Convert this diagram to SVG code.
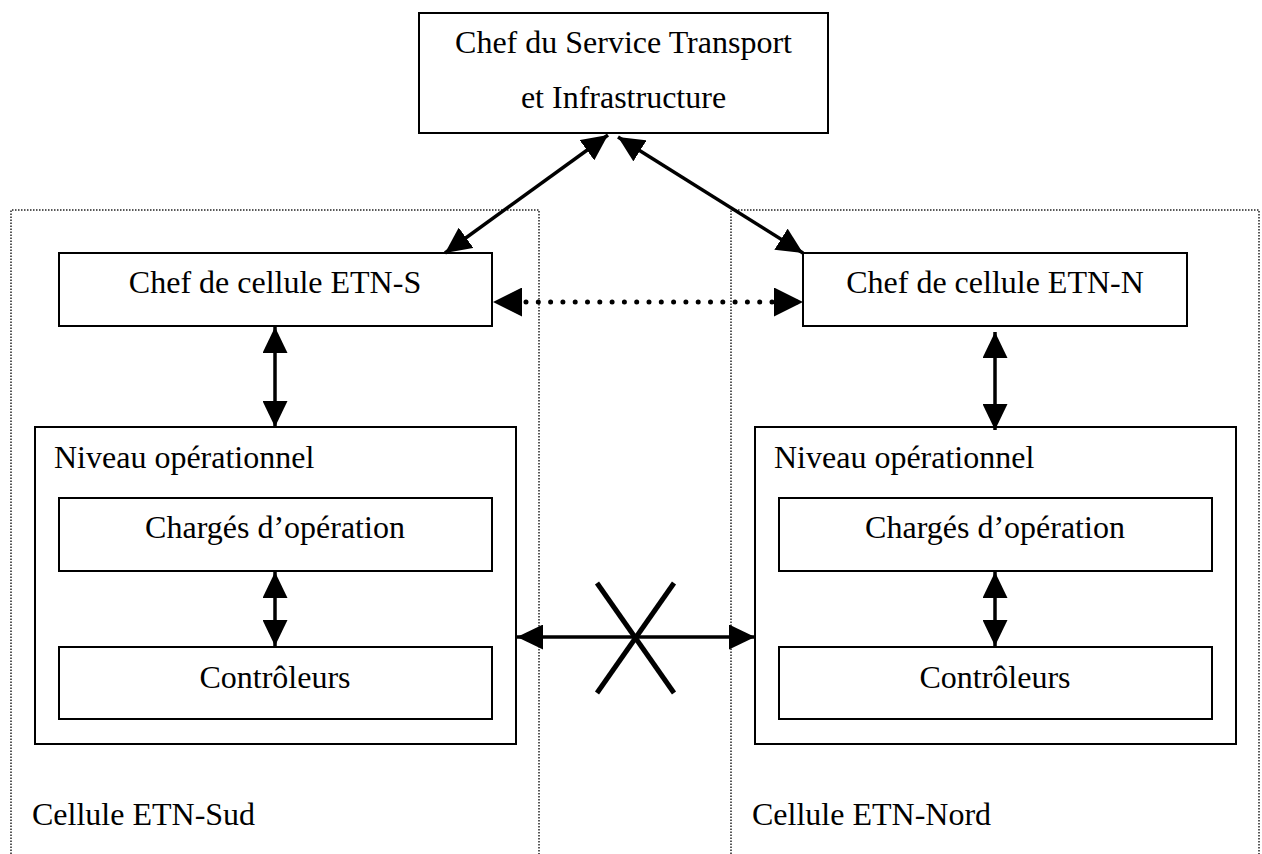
<svg xmlns="http://www.w3.org/2000/svg" width="1262" height="854" viewBox="0 0 1262 854">
<style>
  .box{fill:#fff;stroke:#000;stroke-width:2}
  .cont{fill:none;stroke:#222;stroke-width:1.5;stroke-dasharray:1.5 1.5}
  .t{font-family:"Liberation Serif","Times New Roman",serif;font-size:32px;fill:#000}
  .c{text-anchor:middle}
  .arr{stroke:#000;stroke-width:3.5;fill:none;marker-start:url(#ah);marker-end:url(#ah)}
  .dots{stroke:#000;stroke-width:5;stroke-linecap:round;stroke-dasharray:0 12.3;stroke-dashoffset:-8.4;fill:none;marker-start:url(#ahb);marker-end:url(#ahb)}
  .x{stroke:#000;stroke-width:5;fill:none}
</style>
<defs>
  <marker id="ah" markerUnits="userSpaceOnUse" viewBox="0 0 26 25" refX="26" refY="12.5" markerWidth="26" markerHeight="25" orient="auto-start-reverse">
    <path d="M0,0 L26,12.5 L0,25 z" fill="#000"/>
  </marker>
  <marker id="ahb" markerUnits="userSpaceOnUse" viewBox="0 0 29 29" refX="29" refY="14.5" markerWidth="29" markerHeight="29" orient="auto-start-reverse">
    <path d="M0,0 L29,14.5 L0,29 z" fill="#000"/>
  </marker>
</defs>
<rect width="1262" height="854" fill="#fff"/>
<g id="cellule-sud">
  <path class="cont" d="M11,860 V210 H539 V860"/>
  <text class="t" x="32" y="825">Cellule ETN-Sud</text>
</g>
<g id="cellule-nord">
  <path class="cont" d="M731,860 V210 H1259 V860"/>
  <text class="t" x="752" y="825">Cellule ETN-Nord</text>
</g>
<g id="chef-service">
  <rect class="box" x="419" y="13" width="409" height="120"/>
  <text class="t c" x="623.5" y="53">Chef du Service Transport</text>
  <text class="t c" x="623.5" y="108">et Infrastructure</text>
</g>
<g id="chef-etn-s">
  <rect class="box" x="59" y="253" width="433" height="73"/>
  <text class="t c" x="275" y="293">Chef de cellule ETN-S</text>
</g>
<g id="chef-etn-n">
  <rect class="box" x="803" y="253" width="384" height="73"/>
  <text class="t c" x="995" y="293">Chef de cellule ETN-N</text>
</g>
<g id="niveau-s">
  <rect class="box" x="35" y="427" width="481" height="317"/>
  <text class="t" x="54" y="468">Niveau opérationnel</text>
</g>
<g id="charges-s">
  <rect class="box" x="59" y="498" width="433" height="73"/>
  <text class="t c" x="275" y="538">Chargés d’opération</text>
</g>
<g id="controleurs-s">
  <rect class="box" x="59" y="647" width="433" height="72"/>
  <text class="t c" x="275" y="688">Contrôleurs</text>
</g>
<g id="niveau-n">
  <rect class="box" x="755" y="427" width="481" height="317"/>
  <text class="t" x="774" y="468">Niveau opérationnel</text>
</g>
<g id="charges-n">
  <rect class="box" x="779" y="498" width="433" height="73"/>
  <text class="t c" x="995" y="538">Chargés d’opération</text>
</g>
<g id="controleurs-n">
  <rect class="box" x="779" y="647" width="433" height="72"/>
  <text class="t c" x="995" y="688">Contrôleurs</text>
</g>
<g id="connectors">
  <line class="arr" x1="608" y1="135" x2="445" y2="253"/>
  <line class="arr" x1="618" y1="137" x2="803" y2="253"/>
  <line class="dots" x1="493" y1="302" x2="803" y2="302"/>
  <line class="arr" x1="275" y1="327" x2="275" y2="427"/>
  <line class="arr" x1="995" y1="332" x2="995" y2="430"/>
  <line class="arr" x1="275" y1="572" x2="275" y2="646"/>
  <line class="arr" x1="995" y1="572" x2="995" y2="646"/>
  <line class="arr" x1="517" y1="637" x2="755" y2="637"/>
  <line class="x" x1="597" y1="583" x2="674" y2="693"/>
  <line class="x" x1="674" y1="583" x2="597" y2="693"/>
</g>
</svg>
